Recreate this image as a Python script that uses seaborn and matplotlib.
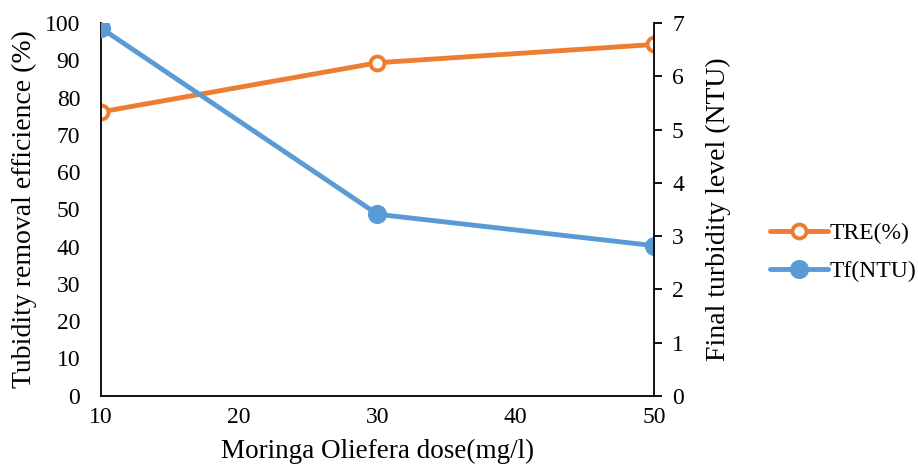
import matplotlib
matplotlib.use("Agg")
import matplotlib.pyplot as plt
import seaborn as sns
import pandas as pd

# Coagulation results for Moringa Oleifera doses
dose = [10, 30, 50]
tre_pct = [76.2, 89.4, 94.3]
tf_ntu = [6.91, 3.41, 2.82]

x_ticks = [10, 20, 30, 40, 50]
left_ticks = [0, 10, 20, 30, 40, 50, 60, 70, 80, 90, 100]
right_ticks = [0, 1, 2, 3, 4, 5, 6, 7]

orange = "#ED7D31"
blue = "#5B9BD5"

sns.set_style("white")
plt.rcParams["font.family"] = ["Liberation Serif", "DejaVu Serif"]
plt.rcParams["text.color"] = "black"
plt.rcParams["axes.labelcolor"] = "black"

df = pd.DataFrame({"dose": dose, "TRE": tre_pct, "Tf": tf_ntu})

fig = plt.figure(figsize=(9.18, 4.65), dpi=100)
ax = fig.add_axes([0.110, 0.149, 0.6024, 0.801])
ax2 = ax.twinx()

sns.lineplot(data=df, x="dose", y="TRE", ax=ax, color=orange, linewidth=3.5,
             marker="o", markersize=10, markerfacecolor="white",
             markeredgecolor=orange, markeredgewidth=2.8, label="TRE(%)",
             legend=False)
sns.lineplot(data=df, x="dose", y="Tf", ax=ax2, color=blue, linewidth=3.5,
             marker="o", markersize=13, markerfacecolor=blue,
             markeredgecolor=blue, label="Tf(NTU)", legend=False)

ax.set_xlim(10, 50)
ax.set_ylim(0, 100)
ax2.set_ylim(0, 7)
ax.set_xticks(x_ticks)
ax.set_yticks(left_ticks)
ax2.set_yticks(right_ticks)

for a in (ax, ax2):
    for s in a.spines.values():
        s.set_visible(False)
ax.spines["left"].set_visible(True)
ax.spines["bottom"].set_visible(True)
ax2.spines["right"].set_visible(True)
for s in (ax.spines["left"], ax.spines["bottom"], ax2.spines["right"]):
    s.set_color("black")
    s.set_linewidth(1.3)

ax.tick_params(axis="y", labelsize=17, length=0, pad=15, colors="black")
ax.tick_params(axis="x", labelsize=17, length=0, pad=8, colors="black")
ax2.tick_params(axis="y", labelsize=17, length=6, width=1.3, direction="out",
                pad=7, colors="black")

ax.set_xlabel("Moringa Oliefera dose(mg/l)", fontsize=19.5)
ax.set_ylabel("Tubidity removal efficience (%)", fontsize=20)
ax2.set_ylabel("Final turbidity level (NTU)", fontsize=20)
ax.xaxis.set_label_coords(0.5, -0.115)
ax.yaxis.set_label_coords(-0.115, 0.5)
ax2.yaxis.set_label_coords(1.094, 0.5)
ax.grid(False)
ax2.grid(False)

h1, l1 = ax.get_legend_handles_labels()
h2, l2 = ax2.get_legend_handles_labels()
fig.legend(h1 + h2, l1 + l2, loc="center left", bbox_to_anchor=(0.829, 0.458),
           frameon=False, fontsize=17, handlelength=2.45, handletextpad=0.05,
           labelspacing=0.7, borderaxespad=0.0)

fig.savefig("out.png", dpi=100)
